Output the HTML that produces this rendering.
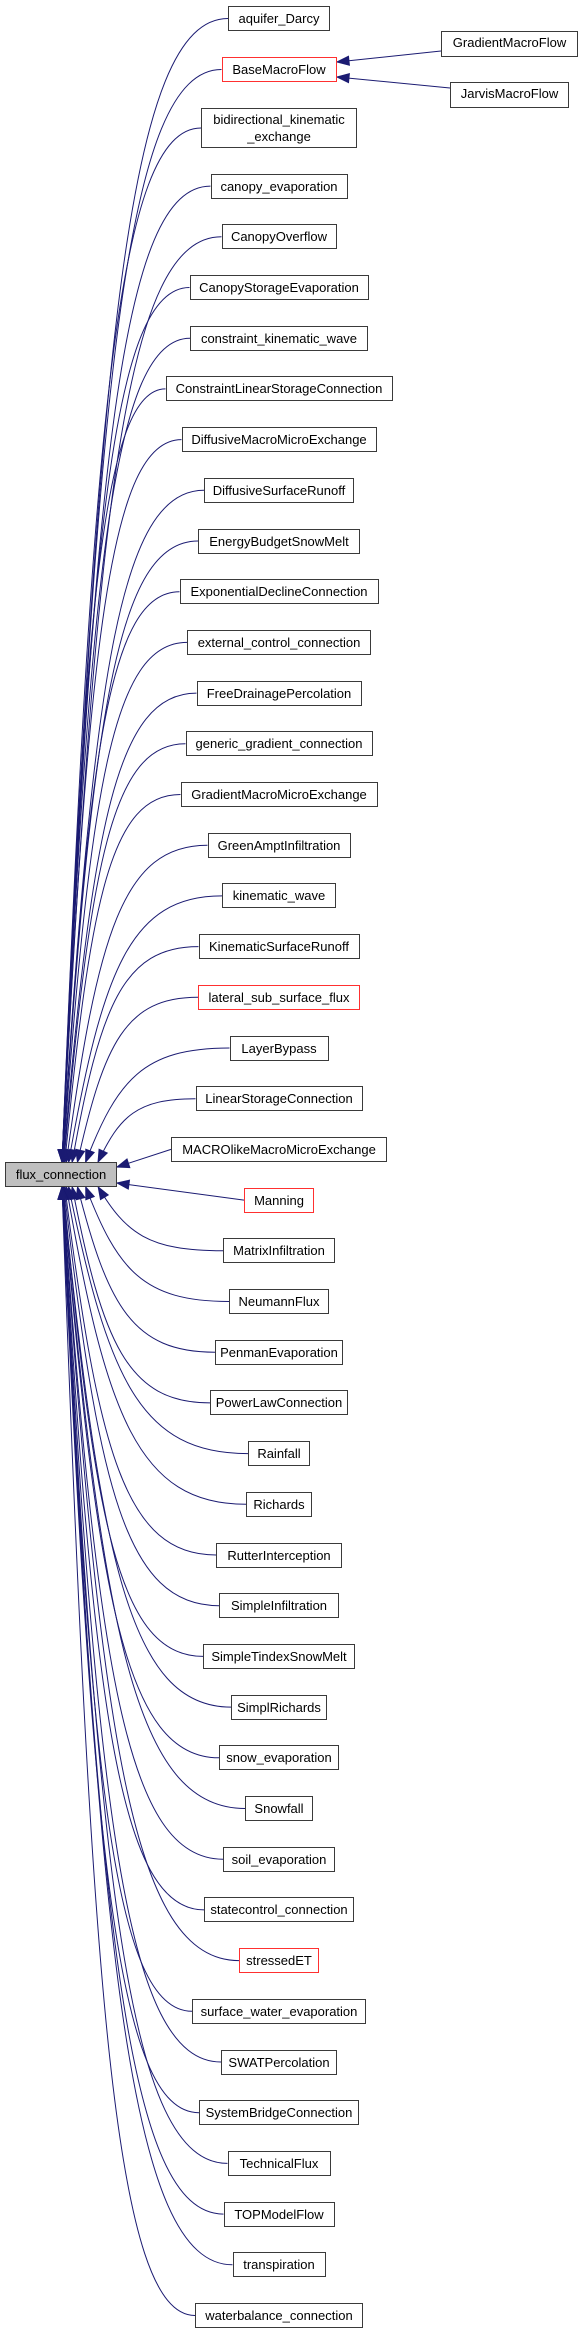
<!DOCTYPE html>
<html><head><meta charset="utf-8">
<style>
html,body{margin:0;padding:0;background:#fff;}
body{width:580px;height:2333px;position:relative;overflow:hidden;font-family:"Liberation Sans",Arial,sans-serif;}
.n{position:absolute;box-sizing:border-box;border:1px solid #3a3a3a;background:#fff;font-size:13px;color:#000;text-align:center;line-height:23px;height:25px;white-space:nowrap;}
.r{border-color:#ff3030;}
svg{position:absolute;left:0;top:0;}
</style></head><body>
<svg id="s" width="580" height="2333"></svg>
<div id="nodes"></div>
<script>
(function(){
var N=[["aquifer_Darcy",102],["BaseMacroFlow",115,1],["bidirectional_kinematic<br>_exchange",156],["canopy_evaporation",137],["CanopyOverflow",115],["CanopyStorageEvaporation",179],["constraint_kinematic_wave",178],["ConstraintLinearStorageConnection",227],["DiffusiveMacroMicroExchange",195],["DiffusiveSurfaceRunoff",150],["EnergyBudgetSnowMelt",162],["ExponentialDeclineConnection",199],["external_control_connection",184],["FreeDrainagePercolation",165],["generic_gradient_connection",187],["GradientMacroMicroExchange",197],["GreenAmptInfiltration",143],["kinematic_wave",114],["KinematicSurfaceRunoff",161],["lateral_sub_surface_flux",162,1],["LayerBypass",99],["LinearStorageConnection",167],["MACROlikeMacroMicroExchange",216],["Manning",70,1],["MatrixInfiltration",112],["NeumannFlux",100],["PenmanEvaporation",128],["PowerLawConnection",138],["Rainfall",62],["Richards",66],["RutterInterception",126],["SimpleInfiltration",120],["SimpleTindexSnowMelt",152],["SimplRichards",96],["snow_evaporation",120],["Snowfall",68],["soil_evaporation",112],["statecontrol_connection",150],["stressedET",80,1],["surface_water_evaporation",174],["SWATPercolation",116],["SystemBridgeConnection",160],["TechnicalFlux",103],["TOPModelFlow",111],["transpiration",93],["waterbalance_connection",168]];
var h='',p='',C='#1b1b72';
function box(x,y,w,ht,t,red,fill){h+='<div class="n'+(red?' r':'')+'" style="left:'+x+'px;top:'+y+'px;width:'+w+'px;height:'+ht+'px;'+(ht>25?'line-height:17px;padding-top:2px;':'')+(fill?'background:#bfbfbf;':'')+'">'+t+'</div>';}
function arrow(tx,ty,dx,dy){var l=Math.hypot(dx,dy);dx/=l;dy/=l;var bx=tx-dx*12,by=ty-dy*12;p+='<polygon points="'+tx+','+ty+' '+(bx-dy*4.5)+','+(by+dx*4.5)+' '+(bx+dy*4.5)+','+(by-dx*4.5)+'" fill="'+C+'" stroke="'+C+'"/>';}
var FY=1175;
for(var i=0;i<N.length;i++){var k=i+1,tp,ht=25;
 if(k==1)tp=6;else if(k==2)tp=57;else if(k==3){tp=108;ht=40;}else tp=173.6+(k-4)*50.7;
 var w=N[i][1],L=279-w/2,cy=tp+ht/2;box(L,tp,w,ht,N[i][0],N[i][2]);
 var dy=cy-FY,tx,ty;
 if(Math.abs(dy)<40){tx=117;ty=dy<0?1167:1183;p+='<path d="M'+tx+','+ty+' L'+L+','+cy+'" fill="none" stroke="'+C+'"/>';arrow(tx,ty,tx-L,ty-cy);continue;}
 ty=dy<0?1162:1187;tx=Math.min(100,62+38*Math.exp(-(Math.abs(dy)-70)/120));
 var p1x=tx+(L-tx)*0.22,p1y=ty+(cy-ty)*0.72,p2x=tx+(L-tx)*0.4;
 p+='<path d="M'+tx+','+ty+' C'+p1x+','+p1y+' '+p2x+','+cy+' '+L+','+cy+'" fill="none" stroke="'+C+'"/>';
 arrow(tx,ty,tx-p1x,ty-p1y);}
box(5,1162,112,25,"flux_connection",0,1);
box(441,31,137,26,"GradientMacroFlow");
box(450,82,119,26,"JarvisMacroFlow");
p+='<path d="M441,51 L337,62" stroke="'+C+'" fill="none"/>';arrow(337,62,-104,11);
p+='<path d="M450,88 L337,77" stroke="'+C+'" fill="none"/>';arrow(337,77,-113,-11);
document.getElementById('s').innerHTML=p;
document.getElementById('nodes').innerHTML=h;
})();
</script>
</body></html>
